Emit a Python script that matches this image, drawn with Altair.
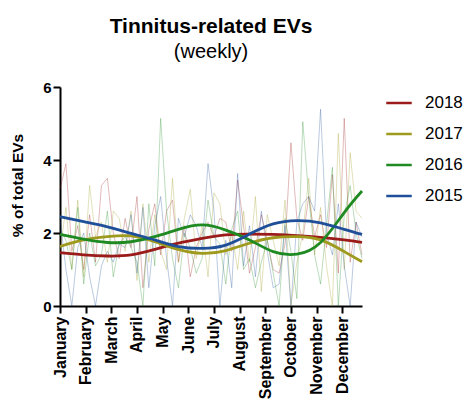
import altair as alt
import pandas as pd

years = ["2018", "2017", "2016", "2015"]
colors = ["#9b1b1b", "#9e9a1e", "#1f8a22", "#1f4f99"]
months = ["January", "February", "March", "April", "May", "June", "July",
          "August", "September", "October", "November", "December"]

weekly_2018 = [3.2, 3.9, 1.5, 2.2, 1.0, 2.5, 1.2, 3.3, 3.5, 2.0, 1.3, 2.4, 1.6, 3.0, 0.5, 2.1,
               2.8, 1.4, 2.6, 2.9, 1.2, 2.2, 0.8, 1.6, 2.0, 2.3, 1.9, 2.4, 2.3, 1.5, 3.45, 2.2,
               0.9, 1.6, 2.5, 1.8, 1.0, 0.9, 1.7, 4.47, 2.4, 1.8, 3.0, 1.9, 2.5, 1.6, 3.6, 0.9,
               5.14, 1.2, 2.3, 1.4]
weekly_2017 = [1.5, 2.7, 1.0, 2.9, 0.8, 3.3, 1.9, 2.3, 1.2, 2.6, 2.4, 1.5, 2.6, 0.7, 2.8, 1.2,
               2.5, 1.5, 1.0, 3.5, 1.2, 2.4, 3.2, 1.3, 2.2, 0.8, 3.1, 2.8, 1.4, 2.0, 1.0, 2.6,
               1.2, 3.0, 0.4, 2.5, 1.8, 1.1, 2.9, 0.0, 1.2, 2.0, 3.5, 1.4, 2.7, 1.1, 0.0, 4.73,
               1.0, 4.2, 2.6, 2.4]
weekly_2016 = [2.1, 1.8, 1.0, 2.7, 0.6, 2.0, 1.1, 1.4, 2.6, 0.8, 1.7, 1.9, 1.6, 1.2, 0.0, 2.8,
               1.1, 5.14, 2.6, 1.3, 0.5, 2.0, 1.6, 0.9, 1.3, 2.9, 1.9, 1.7, 0.6, 2.1, 2.6, 1.0,
               1.3, 0.5, 1.2, 1.8, 0.9, 0.0, 2.4, 1.5, 0.2, 5.05, 3.0, 1.4, 0.6, 2.2, 3.8, 0.0,
               2.5, 3.3, 2.0, 1.3]
weekly_2015 = [2.4, 1.0, 0.0, 1.6, 2.0, 0.8, 0.0, 1.1, 1.5, 1.2, 1.7, 1.6, 2.5, 0.9, 2.7, 0.5,
               2.2, 3.0, 1.3, 0.0, 2.4, 1.9, 2.5, 2.2, 1.6, 3.9, 2.6, 0.0, 1.8, 0.5, 3.63, 1.1,
               2.2, 0.8, 2.6, 1.5, 0.5, 0.6, 2.2, 0.0, 2.3, 2.8, 3.0, 2.6, 5.39, 2.0, 1.4, 2.8,
               1.1, 0.0, 2.3, 1.9]

fit_weeks = [0, 4, 8, 12, 16, 20, 24, 28, 32, 36, 40, 44, 48, 51]
fit_2018 = [1.46, 1.40, 1.37, 1.40, 1.55, 1.72, 1.85, 1.95, 1.97, 1.96, 1.93, 1.88, 1.81, 1.74]
fit_2017 = [1.63, 1.81, 1.90, 1.92, 1.76, 1.55, 1.44, 1.52, 1.72, 1.87, 1.90, 1.81, 1.49, 1.21]
fit_2016 = [1.96, 1.83, 1.74, 1.76, 1.90, 2.10, 2.22, 2.08, 1.81, 1.49, 1.42, 1.74, 2.56, 3.15]
fit_2015 = [2.45, 2.31, 2.17, 1.99, 1.81, 1.63, 1.58, 1.67, 1.97, 2.25, 2.34, 2.28, 2.10, 1.96]

weekly = {"2018": weekly_2018, "2017": weekly_2017, "2016": weekly_2016, "2015": weekly_2015}
fits = {"2018": fit_2018, "2017": fit_2017, "2016": fit_2016, "2015": fit_2015}

rows = []
for y in years:
    for i, v in enumerate(weekly[y]):
        rows.append({"week": i, "value": v, "year": y})
raw = pd.DataFrame(rows)

rows = []
for y in years:
    for w, v in zip(fit_weeks, fits[y]):
        rows.append({"week": w, "value": v, "year": y})
fit = pd.DataFrame(rows)

month_ticks = [m * 52 / 12 for m in range(12)]
label_expr = "[" + ",".join(f"'{m}'" for m in months) + "][round(datum.value*12/52)]"

FONT = "Liberation Sans"

x_axis = alt.Axis(values=month_ticks, labelExpr=label_expr, labelAngle=-90,
                  labelOverlap=False, title=None, grid=False, labelFontSize=16,
                  labelFontWeight="bold", labelFont=FONT, labelColor="black",
                  domainColor="black", domainWidth=2, tickColor="black",
                  tickWidth=2, tickSize=7, labelPadding=3)
y_axis = alt.Axis(values=[0, 2, 4, 6], title="% of total EVs", grid=False,
                  labelFontSize=15, labelFontWeight="bold", labelFont=FONT,
                  labelColor="black", domainColor="black", domainWidth=2,
                  tickColor="black", tickWidth=2, tickSize=7,
                  titleFontSize=15.5, titleFontWeight="bold", titleFont=FONT,
                  titleColor="black", titleX=-35, titleY=98, titleAlign="center")
x_scale = alt.Scale(domain=[0, 51], nice=False, zero=False)
y_scale = alt.Scale(domain=[0, 6], nice=False)

color_scale = alt.Scale(domain=years, range=colors)
legend = alt.Legend(title=None, orient="none", legendX=325, legendY=2,
                    symbolType="stroke", symbolSize=650, symbolStrokeWidth=2.5,
                    symbolOpacity=1, labelFontSize=17, labelFont=FONT,
                    labelColor="black", rowPadding=9, labelOffset=12)

faint = alt.Chart(raw).mark_line(strokeWidth=1, opacity=0.3).encode(
    x=alt.X("week:Q", scale=x_scale, axis=x_axis),
    y=alt.Y("value:Q", scale=y_scale, axis=y_axis),
    color=alt.Color("year:N", scale=color_scale, sort=years, legend=legend),
    detail="year:N",
)

smooth = alt.Chart(fit).mark_line(strokeWidth=2.8, interpolate="natural").encode(
    x=alt.X("week:Q", scale=x_scale, axis=x_axis),
    y=alt.Y("value:Q", scale=y_scale, axis=y_axis),
    color=alt.Color("year:N", scale=color_scale, sort=years, legend=legend),
)

chart = alt.layer(faint, smooth).properties(
    width=302, height=219,
    autosize=alt.AutoSizeParams(type="none"),
    padding={"left": 60, "top": 87, "right": 106, "bottom": 96},
    title=alt.TitleParams(text="Tinnitus-related EVs", subtitle="(weekly)",
                          font=FONT, fontSize=21, fontWeight="bold", color="black",
                          subtitleFont=FONT, subtitleFontSize=20, subtitleColor="black",
                          subtitlePadding=5, anchor="middle", offset=18),
).configure(background="white").configure_view(stroke=None)

chart.save("out.html", embed_options={"renderer": "svg", "actions": False})
